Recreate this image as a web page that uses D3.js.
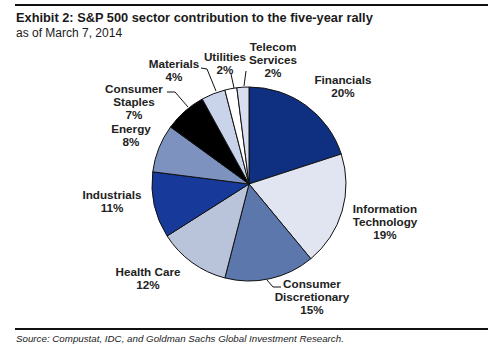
<!DOCTYPE html>
<html>
<head>
<meta charset="utf-8">
<script src="https://cdn.jsdelivr.net/npm/d3@7"></script>
<style>
  body { margin: 0; background: #fff; }
  svg { display: block; font-family: "Liberation Sans", Arial, sans-serif; }
</style>
</head>
<body>
<div id="chart"></div>
<script>
// sector shares, clockwise from 12 o'clock
var sectors = ["Financials", "Information Technology", "Consumer Discretionary", "Health Care",
  "Industrials", "Energy", "Consumer Staples", "Materials", "Utilities", "Telecom Services"];
var shares = [20, 19, 15, 12, 11, 8, 7, 4, 2, 2];
var colors = ["#0f2f80", "#e1e5f1", "#5b77ab", "#b9c3da", "#17399a", "#7e92c0", "#000000", "#c9d3e9", "#ffffff", "#d9dfef"];

// label lines and the centre of each label's first line
var labelLines = [["Financials", "20%"], ["Information", "Technology", "19%"], ["Consumer", "Discretionary", "15%"],
  ["Health Care", "12%"], ["Industrials", "11%"], ["Energy", "8%"], ["Consumer", "Staples", "7%"],
  ["Materials", "4%"], ["Utilities", "2%"], ["Telecom", "Services", "2%"]];
var labelPos = [[343, 80], [385, 209], [312, 284], [148, 272], [112, 195], [131, 129], [134, 89], [174, 64], [225, 57], [273, 47]];
// leader lines
var leaders = [
  {i: 2, pts: [[267, 280], [273, 287], [281, 287]]},
  {i: 6, pts: [[167, 92], [175, 92], [188, 107]]},
  {i: 7, pts: [[201, 68], [207, 69], [216, 91]]},
  {i: 8, pts: [[231, 74], [234, 88]]},
  {i: 9, pts: [[246, 71], [244, 86]]}
];

var W = 500, H = 352;
var svg = d3.select("#chart").append("svg").attr("width", W).attr("height", H);

// top and bottom rules
svg.append("line").attr("x1", 15).attr("x2", 488).attr("y1", 5).attr("y2", 5)
  .attr("stroke", "#111").attr("stroke-width", 2);
svg.append("line").attr("x1", 15).attr("x2", 488).attr("y1", 329).attr("y2", 329)
  .attr("stroke", "#111").attr("stroke-width", 2);

svg.append("text").attr("x", 16).attr("y", 22)
  .attr("font-size", 12.8).attr("font-weight", "bold").attr("fill", "#1a1a1a")
  .text("Exhibit 2: S&P 500 sector contribution to the five-year rally");
svg.append("text").attr("x", 16).attr("y", 37)
  .attr("font-size", 12).attr("fill", "#1a1a1a")
  .text("as of March 7, 2014");
svg.append("text").attr("x", 16).attr("y", 342)
  .attr("font-size", 9.75).attr("font-style", "italic").attr("fill", "#222")
  .text("Source: Compustat, IDC, and Goldman Sachs Global Investment Research.");

// pie
var cx = 249, cy = 184, r = 97;
var data = sectors.map(function(s, i) { return {name: s, value: shares[i], color: colors[i]}; });
var pie = d3.pie().value(function(d) { return d.value; }).sort(null);
var arc = d3.arc().innerRadius(0).outerRadius(r);

var g = svg.append("g").attr("transform", "translate(" + cx + "," + cy + ")");
g.selectAll("path.slice")
  .data(pie(data)).enter().append("path")
  .attr("class", "slice")
  .attr("d", arc)
  .attr("fill", function(d) { return d.data.color; })
  .attr("stroke", "#111")
  .attr("stroke-width", 1);

// leader lines
var line = d3.line();
svg.selectAll("path.leader")
  .data(leaders).enter().append("path")
  .attr("class", "leader")
  .attr("d", function(d) { return line(d.pts); })
  .attr("fill", "none").attr("stroke", "#111").attr("stroke-width", 1);

// labels
var lineH = 13;
labelLines.forEach(function(lines, i) {
  var t = svg.append("text")
    .attr("text-anchor", "middle")
    .attr("font-size", 11.7).attr("font-weight", "bold").attr("fill", "#222");
  lines.forEach(function(l, k) {
    t.append("tspan").attr("x", labelPos[i][0]).attr("y", labelPos[i][1] + 4.3 + k * lineH).text(l);
  });
});
</script>
</body>
</html>
